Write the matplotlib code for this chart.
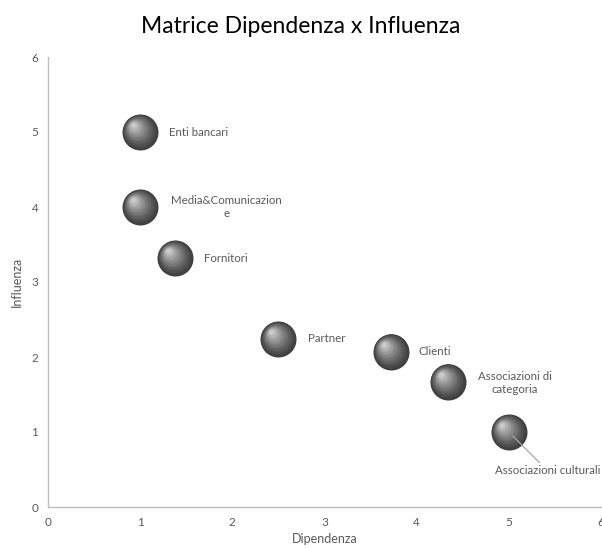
import matplotlib
matplotlib.use("Agg")
import matplotlib.pyplot as plt
import matplotlib.transforms as mtransforms
import numpy as np

plt.rcParams["font.family"] = ["Lato", "DejaVu Sans"]

# data
names = ["Enti bancari", "Media&Comunicazion\ne", "Fornitori", "Partner",
         "Clienti", "Associazioni di\ncategoria", "Associazioni culturali"]
dipendenza = [1.0, 1.0, 1.38, 2.5, 3.72, 4.34, 5.0]
influenza = [5.0, 4.0, 3.32, 2.24, 2.07, 1.67, 1.0]
x_ticks = [0, 1, 2, 3, 4, 5, 6]
y_ticks = [0, 1, 2, 3, 4, 5, 6]

# label placement (offset in points, alignment)
label_pos = [
    ((21, 0), "left"),
    ((62, 0), "center"),
    ((21, 0), "left"),
    ((21, 0), "left"),
    ((20, 0), "left"),
    ((48, -1), "center"),
    ((28, -28), "center"),
]

fig = plt.figure(figsize=(6.02, 5.48), dpi=100)
ax = fig.add_axes([48 / 602, 41 / 548, 553 / 602, 450 / 548])

# sphere look: stacked discs getting lighter toward the upper-left
radius = 18 * 0.72
layers = 24
dark = np.array([0.24, 0.24, 0.24])
light = np.array([0.80, 0.80, 0.80])
for i in range(layers):
    t = i / (layers - 1)
    r = radius * (1 - 0.9 * t)
    shift = (radius - r) * 0.45
    off = mtransforms.offset_copy(ax.transData, fig=fig, x=-shift, y=shift, units="points")
    col = dark + (light - dark) * t ** 1.2
    ax.scatter(dipendenza, influenza, s=(2 * r) ** 2, color=col,
               transform=off, zorder=3 + i, linewidths=0)

for name, x, y, ((dx, dy), ha) in zip(names, dipendenza, influenza, label_pos):
    arrow = None
    if dy < -10:
        arrow = dict(arrowstyle="-", color="#a6a6a6", lw=0.9, shrinkA=0, shrinkB=4)
    ax.annotate(name, (x, y), xytext=(dx, dy), textcoords="offset points",
                ha=ha, va="center", multialignment="center", fontsize=8.3,
                color="#595959", arrowprops=arrow, zorder=40)

ax.set_xlim(0, 6)
ax.set_ylim(0, 6)
ax.set_xticks(x_ticks)
ax.set_yticks(y_ticks)
ax.tick_params(length=0, labelsize=8.5, colors="#595959", pad=7)
for side in ["top", "right"]:
    ax.spines[side].set_visible(False)
for side in ["left", "bottom"]:
    ax.spines[side].set_color("#bfbfbf")
    ax.spines[side].set_linewidth(1.0)

ax.set_xlabel("Dipendenza", fontsize=9, color="#595959", labelpad=4)
ax.set_ylabel("Influenza", fontsize=9, color="#595959", labelpad=6)
fig.suptitle("Matrice Dipendenza x Influenza", fontsize=16.5, y=0.97)

fig.savefig("out.png", dpi=100)
